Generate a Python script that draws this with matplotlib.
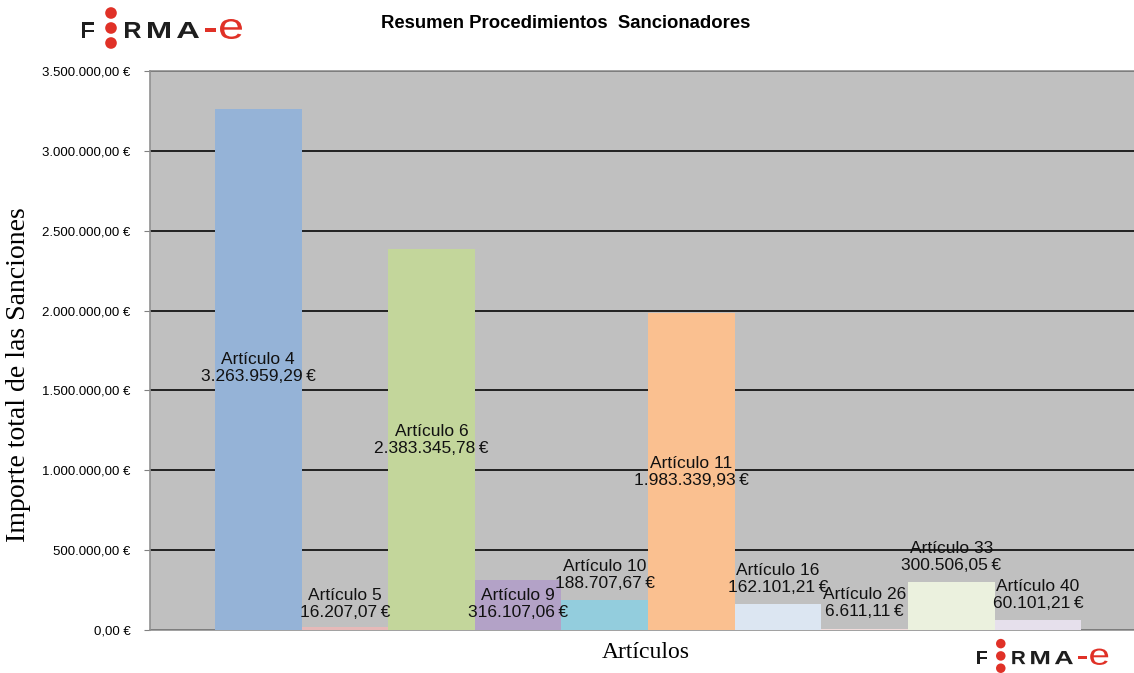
import matplotlib
matplotlib.use('Agg')
import matplotlib.pyplot as plt
from matplotlib.ticker import FuncFormatter
from matplotlib.textpath import TextPath
from matplotlib.patches import PathPatch
from matplotlib.font_manager import FontProperties
from matplotlib.transforms import Affine2D
import numpy as np

articulos = ['Artículo 4', 'Artículo 5', 'Artículo 6', 'Artículo 9', 'Artículo 10',
             'Artículo 11', 'Artículo 16', 'Artículo 26', 'Artículo 33', 'Artículo 40']
importes = [3263959.29, 16207.07, 2383345.78, 316107.06, 188707.67,
            1983339.93, 162101.21, 6611.11, 300506.05, 60101.21]
colores = ['#95B3D7', '#E6B9B8', '#C3D69B', '#B3A2C7', '#93CDDD',
           '#FAC090', '#DCE6F2', '#F2DCDB', '#EBF1DE', '#E6E0EC']
# where each data label sits (centre, in euros), as laid out in the original
label_y = [1640000, 163000, 1190000, 163000, 344000,
           989000, 319000, 169000, 457000, 219000]


def euro(v, pos=None):
    s = '{:,.2f}'.format(v).replace(',', 'X').replace('.', ',').replace('X', '.')
    return s + ' €'


plt.rcParams['font.family'] = ['Liberation Sans', 'DejaVu Sans']

fig = plt.figure(figsize=(11.34, 6.73), dpi=100)
ax = fig.add_axes([150 / 1134, 1 - 630 / 673, 984 / 1134, 559 / 673])
ax.set_facecolor('#C0C0C0')

x = np.arange(len(articulos))
ax.bar(x, importes, width=1.0, color=colores, zorder=3)
for xi, v, ly, name in zip(x, importes, label_y, articulos):
    ax.text(xi, ly, name + '\n' + euro(v).replace(' €', '\u2009€'), ha='center', va='center',
            fontsize=12.5, linespacing=1.2, color='#111111', zorder=4)

ax.set_xlim(-1.25, 10.11)
ax.set_ylim(0, 3500000)
ax.set_yticks(np.arange(0, 3500001, 500000))
ax.yaxis.set_major_formatter(FuncFormatter(euro))
ax.tick_params(axis='y', labelsize=9.5, length=4, color='#808080', pad=10)
ax.set_xticks([])
ax.yaxis.grid(True, color='#151515', linewidth=1.3, zorder=1)
ax.set_axisbelow(True)
for side in ['left', 'bottom', 'top']:
    ax.spines[side].set_color('#909090')
    ax.spines[side].set_linewidth(1.2)
ax.spines['right'].set_visible(False)

fig.text(19 / 1134, 1 - 375 / 673, 'Importe total de las Sanciones', rotation=90,
         ha='center', va='center', family='Liberation Serif', fontsize=20)
fig.text(646 / 1134, 1 - 652 / 673, 'Artículos', ha='center', va='center',
         family='Liberation Serif', fontsize=17)

fig.text(0.499, 0.965, 'Resumen Procedimientos  Sancionadores', ha='center',
         va='center', fontsize=13.3, fontweight='bold')

# FIRMA-e logos (pixel overlay)
ov = fig.add_axes([0, 0, 1, 1], facecolor='none')
ov.set_xlim(0, 1134)
ov.set_ylim(673, 0)
ov.axis('off')

fp_bold = FontProperties(family='Liberation Sans', weight='bold')
fp_reg = FontProperties(family='Liberation Sans')


def glyph(ch, x0, x1, y0, y1, color, fp):
    tp = TextPath((0, 0), ch, size=100, prop=fp)
    e = tp.get_extents()
    t = (Affine2D().translate(-e.x0, -e.y1)
         .scale((x1 - x0) / e.width, -(y1 - y0) / e.height)
         .translate(x0, y0))
    ov.add_patch(PathPatch(tp.transformed(t), fc=color, ec='none', zorder=5))


def logo(x0, y0, s):
    # boxes relative to the top-left of the F, in pixels at scale 1
    dark = '#1e1e1e'
    red = '#E03127'
    cap = 16
    for ch, a, b in [('F', 0, 12), ('R', 43, 59), ('M', 66, 88), ('A', 95, 117)]:
        glyph(ch, x0 + a * s, x0 + b * s, y0, y0 + cap * s, dark, fp_bold)
    glyph('-', x0 + 123 * s, x0 + 134 * s, y0 + 6 * s, y0 + 10 * s, red, fp_bold)
    glyph('e', x0 + 138 * s, x0 + 160 * s, y0 - 3 * s, y0 + 17 * s, red, fp_reg)
    ov.scatter([x0 + 29 * s] * 3, [y0 - 9 * s, y0 + 6 * s, y0 + 21 * s],
               s=70 * s * s, color=red, edgecolors='none', zorder=6)


logo(82, 22, 1.0)
logo(977, 651, 0.82)

fig.savefig('out.png', dpi=100)
